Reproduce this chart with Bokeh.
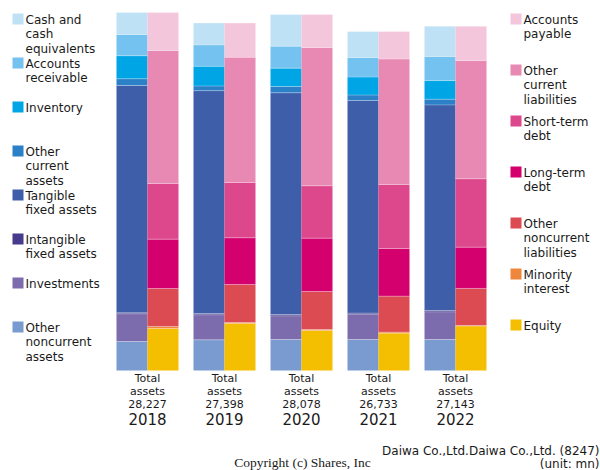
import numpy as np
from bokeh.plotting import figure
from bokeh.models import ColumnDataSource, Range1d, Label, BoxAnnotation
from bokeh.core.properties import value
from bokeh.embed import file_html
from bokeh.resources import INLINE

# ---------------- data (million yen) ----------------
years = ["2018", "2019", "2020", "2021", "2022"]
total_assets = [28227, 27398, 28078, 26733, 27143]

# assets
cash = [1735, 1735, 2497, 2050, 2392]
receivables = [1680, 1682, 1735, 1551, 1892]
inventory = [1814, 1551, 1446, 1419, 1472]
other_current_assets = [528, 368, 499, 420, 447]
tangible = [17923, 17568, 17480, 16772, 16210]
intangible = [79, 105, 105, 79, 105]
investments = [2184, 1971, 1866, 1998, 2181]
other_noncurrent_assets = [2287, 2418, 2444, 2444, 2444]

# liabilities and equity
payables = [2996, 2707, 2602, 2181, 2705]
other_current_liab = [10487, 9867, 10907, 9886, 9328]
short_term_debt = [4390, 4363, 4127, 5046, 5385]
long_term_debt = [3890, 3680, 4205, 3759, 3256]
other_noncurrent_liab = [2996, 2996, 2996, 2839, 2917]
minority = [158, 79, 79, 79, 52]
equity = [3312, 3706, 3154, 2943, 3500]

asset_names = ["Cash and\ncash\nequivalents", "Accounts\nreceivable", "Inventory",
               "Other\ncurrent\nassets", "Tangible\nfixed assets", "Intangible\nfixed assets",
               "Investments", "Other\nnoncurrent\nassets"]
asset_colors = ["#BEE1F6", "#74C2F0", "#00A5E5", "#2B80C8", "#3E5EAA", "#453A8C",
                "#7D6CAD", "#7A9BD0"]
asset_series = [cash, receivables, inventory, other_current_assets, tangible, intangible,
                investments, other_noncurrent_assets]

liab_names = ["Accounts\npayable", "Other\ncurrent\nliabilities", "Short-term\ndebt",
              "Long-term\ndebt", "Other\nnoncurrent\nliabilities", "Minority\ninterest", "Equity"]
liab_colors = ["#F4C6DB", "#E889B4", "#DD478C", "#D4006E", "#DC4A52", "#EE873B", "#F4BF00"]
liab_series = [payables, other_current_liab, short_term_debt, long_term_debt,
               other_noncurrent_liab, minority, equity]

# ---------------- figure ----------------
W, H = 600, 470
p = figure(width=W, height=H, output_backend="svg", toolbar_location=None,
           x_axis_type=None, y_axis_type=None, min_border=0,
           x_range=Range1d(-1.909, 5.883), y_range=Range1d(-7885, 29173))
p.outline_line_color = None
p.xgrid.visible = False
p.ygrid.visible = False
p.background_fill_color = "white"
p.border_fill_color = "white"

idx = np.arange(len(years))
bw = 0.4026
xa = idx - bw / 2
xl = idx + bw / 2

data = {"xa": xa, "xl": xl}
a_keys, l_keys = [], []
for i, s in enumerate(asset_series):
    k = f"a{i}"
    data[k] = s
    a_keys.append(k)
for i, s in enumerate(liab_series):
    k = f"l{i}"
    data[k] = s
    l_keys.append(k)
src = ColumnDataSource(data)

# stack from bottom: reverse order of the legend lists
p.vbar_stack(a_keys[::-1], x="xa", width=bw, source=src,
             color=asset_colors[::-1], line_color=None)
p.vbar_stack(l_keys[::-1], x="xl", width=bw, source=src,
             color=liab_colors[::-1], line_color=None)

# light separator lines at the top of each segment
for xs, series in ((xa, asset_series), (xl, liab_series)):
    cum = np.cumsum(np.array(series[::-1], dtype=float), axis=0)
    for row in cum:
        p.segment(x0=xs - bw / 2, x1=xs + bw / 2, y0=row, y1=row,
                  line_color="white", line_alpha=0.3, line_width=1)

# totals under the bars
tot_src = ColumnDataSource(dict(
    x=idx, y=[0] * len(years),
    t=[f"Total\nassets\n{v:,}" for v in total_assets],
    yr=years))
p.text(x="x", y="y", text="t", source=tot_src, text_align="center",
       text_baseline="top", y_offset=2, text_font=value("DejaVu Sans"),
       text_font_size="11px", text_color="#1a1a1a", text_line_height=0.99)
p.text(x="x", y="y", text="yr", source=tot_src, text_align="center",
       text_baseline="top", y_offset=43, text_font=value("DejaVu Sans"),
       text_font_size="15px", text_color="#1a1a1a")

# ---------------- legends (screen units) ----------------
def page_to_sx(px):
    return px

def page_to_sy(py):
    return H - py

def legend_item(sq_left, sq_top, color, text):
    p.add_layout(BoxAnnotation(left=page_to_sx(sq_left), right=page_to_sx(sq_left + 11),
                               top=page_to_sy(sq_top), bottom=page_to_sy(sq_top + 11),
                               left_units="screen", right_units="screen",
                               top_units="screen", bottom_units="screen",
                               fill_color=color, fill_alpha=1.0, line_color=None,
                               level="overlay"))
    p.add_layout(Label(x=page_to_sx(sq_left + 13), y=page_to_sy(sq_top - 1),
                       x_units="screen", y_units="screen", text=text,
                       text_baseline="top", text_align="left",
                       text_font="DejaVu Sans", text_font_size="12px",
                       text_color="#1a1a1a", text_line_height=1.07))

for i, (n, c) in enumerate(zip(asset_names, asset_colors)):
    legend_item(12, 13 + 44 * i, c, n)
for i, (n, c) in enumerate(zip(liab_names, liab_colors)):
    legend_item(510, 13 + 51 * i, c, n)

# ---------------- footer texts ----------------
p.add_layout(Label(x=page_to_sx(599), y=page_to_sy(450), x_units="screen", y_units="screen",
                   text="Daiwa Co.,Ltd.Daiwa Co.,Ltd. (8247)", text_align="right",
                   text_baseline="alphabetic", text_font="DejaVu Sans",
                   text_font_size="12px", text_color="#1a1a1a"))
p.add_layout(Label(x=page_to_sx(599), y=page_to_sy(463), x_units="screen", y_units="screen",
                   text="(unit: mn)", text_align="right",
                   text_baseline="alphabetic", text_font="DejaVu Sans",
                   text_font_size="12px", text_color="#1a1a1a"))
p.add_layout(Label(x=page_to_sx(302), y=page_to_sy(462), x_units="screen", y_units="screen",
                   text="Copyright (c) Shares, Inc", text_align="center",
                   text_baseline="alphabetic", text_font="Liberation Serif",
                   text_font_size="13.5px", text_color="#1a1a1a"))

open("out.html", "w").write(file_html(p, INLINE))
